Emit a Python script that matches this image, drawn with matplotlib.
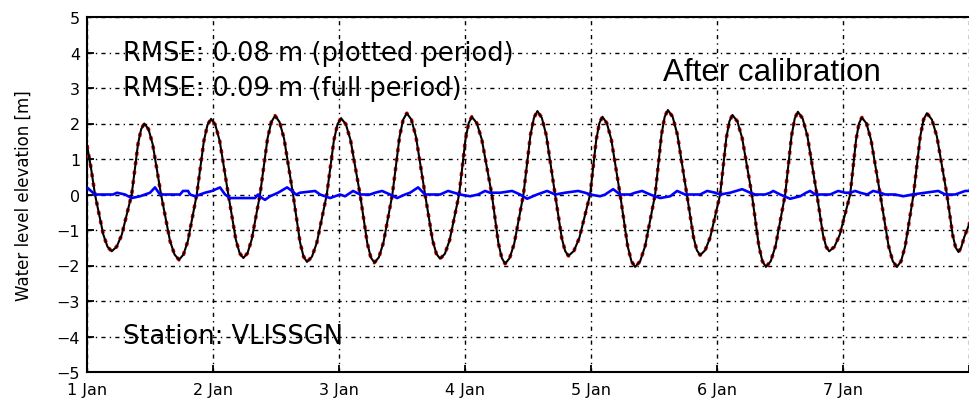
import matplotlib.pyplot as plt
import numpy as np

# hours since 1 Jan 00:00 and water level [m], model (black)
model_hours = [0.0, 0.76, 1.52, 3.11, 3.90, 4.70, 5.65, 6.61,
               8.51, 9.71, 10.31, 10.91, 11.71, 12.50,
               14.10, 15.81, 16.67, 17.52, 18.37, 19.21,
               20.90, 22.26, 22.94, 23.62, 24.44, 25.27,
               26.91, 28.34, 29.06, 29.77, 30.57, 31.36,
               32.95, 34.38, 35.10, 35.81, 36.67, 37.52,
               39.24, 40.57, 41.24, 41.90, 42.84, 43.78,
               45.66, 47.02, 47.70, 48.38, 49.29, 50.19,
               52.00, 53.36, 54.04, 54.72, 55.58, 56.44,
               58.15, 59.52, 60.21, 60.90, 61.77, 62.64,
               64.38, 65.81, 66.53, 67.24, 68.15, 69.05,
               70.86, 72.07, 72.68, 73.28, 74.23, 75.18,
               77.09, 78.35, 78.99, 79.62, 80.49, 81.36,
               83.11, 84.44, 85.11, 85.77, 86.61, 87.46,
               89.14, 90.41, 91.05, 91.68, 92.71, 93.74,
               95.81, 96.98, 97.57, 98.15, 98.99, 99.84,
               101.52, 102.95, 103.67, 104.38, 105.33, 106.29,
               108.19, 109.40, 110.01, 110.61, 111.52, 112.42,
               114.23, 115.50, 116.13, 116.76, 117.71, 118.67,
               120.57, 121.74, 122.33, 122.91, 123.84, 124.76,
               126.61, 127.94, 128.61, 129.28, 130.20, 131.12,
               132.95, 134.16, 134.77, 135.37, 136.28, 137.18,
               138.99, 140.16, 140.75, 141.33, 142.33, 143.33,
               145.33, 146.45, 147.00, 147.56, 148.43, 149.30,
               151.05, 152.64, 153.44, 154.23, 155.02, 155.81,
               157.39, 158.67, 159.30, 159.94, 160.89, 161.85,
               163.75, 164.86, 165.41, 165.96, 166.45, 167.05, 168.19]
model_level = [1.39, 0.75, 0.0, -1.13, -1.47, -1.60, -1.47, -1.14,
               0.0, 1.42, 1.84, 2.00, 1.84, 1.42,
               0.0, -1.31, -1.69, -1.84, -1.69, -1.31,
               0.0, 1.51, 1.96, 2.13, 1.96, 1.51,
               0.0, -1.27, -1.65, -1.79, -1.65, -1.27,
               0.0, 1.58, 2.04, 2.22, 2.04, 1.58,
               0.0, -1.35, -1.75, -1.90, -1.75, -1.35,
               0.0, 1.53, 1.98, 2.15, 1.98, 1.53,
               0.0, -1.36, -1.77, -1.92, -1.77, -1.36,
               0.0, 1.63, 2.11, 2.29, 2.11, 1.63,
               0.0, -1.29, -1.67, -1.81, -1.67, -1.29,
               0.0, 1.55, 2.01, 2.19, 2.01, 1.55,
               0.0, -1.38, -1.79, -1.95, -1.79, -1.38,
               0.0, 1.67, 2.16, 2.35, 2.16, 1.67,
               0.0, -1.23, -1.59, -1.73, -1.59, -1.23,
               0.0, 1.55, 2.01, 2.19, 2.01, 1.55,
               0.0, -1.45, -1.88, -2.04, -1.88, -1.45,
               0.0, 1.69, 2.19, 2.38, 2.19, 1.69,
               0.0, -1.21, -1.57, -1.71, -1.57, -1.21,
               0.0, 1.59, 2.06, 2.24, 2.06, 1.59,
               0.0, -1.45, -1.88, -2.04, -1.88, -1.45,
               0.0, 1.65, 2.14, 2.33, 2.14, 1.65,
               0.0, -1.14, -1.47, -1.60, -1.47, -1.14,
               0.0, 1.54, 2.00, 2.17, 2.00, 1.54,
               0.0, -1.45, -1.88, -2.04, -1.88, -1.45,
               0.0, 1.63, 2.11, 2.29, 2.11, 1.63,
               0.0, -1.15, -1.49, -1.62, -1.50, -1.20, -0.76]

# difference series (blue)
diff_hours = [0.0, 1.52, 4.95, 5.71, 7.24, 8.48, 10.10, 11.05, 12.0, 12.95, 13.90,
              17.71, 18.29, 19.24, 19.62, 20.57, 21.52, 22.48, 23.81, 25.33, 26.29,
              27.24, 32.0, 32.57, 33.33, 33.90, 34.86, 36.38, 38.10, 39.05, 39.81,
              40.57, 43.43, 44.38, 46.29, 48.19, 49.14, 50.67, 52.0, 53.90, 54.86,
              56.19, 57.71, 59.05, 60.57, 61.52, 63.05, 64.38, 67.24, 68.76, 71.05,
              72.95, 74.48, 75.81, 76.76, 78.67, 80.95, 82.48, 83.81, 85.71, 87.62,
              89.14, 91.05, 93.52, 94.86, 95.81, 97.71, 98.67, 100.19, 101.52, 103.43,
              104.38, 105.71, 107.24, 109.14, 111.05, 112.38, 113.90, 116.76, 118.10, 119.62,
              120.57, 122.48, 124.76, 126.29, 127.24, 129.14, 130.10, 130.67, 132.0, 133.90,
              135.81, 136.95, 137.71, 138.67, 141.52, 143.05, 144.38, 145.33, 146.29, 147.24,
              148.57, 149.71, 151.05, 152.0, 153.90, 155.43, 157.14, 159.62, 162.10, 163.43,
              165.33, 166.29, 167.24, 168.19]
diff_level = [0.2, 0.0, 0.0, 0.05, 0.0, -0.1, -0.05, 0.0, 0.05, 0.2, 0.0,
              0.0, 0.1, 0.1, 0.0, -0.05, 0.0, 0.05, 0.1, 0.2, 0.0,
              -0.1, -0.1, 0.0, -0.1, -0.15, -0.05, 0.05, 0.2, 0.1, 0.0,
              0.05, 0.1, 0.0, -0.1, 0.0, -0.05, 0.1, 0.0, 0.0, 0.05,
              0.1, 0.0, -0.1, 0.0, 0.05, 0.2, 0.0, 0.0, 0.1, 0.0,
              -0.05, 0.0, 0.1, 0.05, 0.05, 0.1, 0.0, -0.12, 0.0, 0.1,
              0.0, 0.05, 0.1, 0.05, 0.0, -0.05, 0.0, 0.15, 0.0, 0.0,
              0.05, 0.1, 0.0, -0.1, -0.05, 0.1, 0.0, 0.0, 0.1, 0.05,
              0.0, 0.05, 0.15, 0.05, 0.0, 0.0, 0.05, 0.1, 0.0, -0.12,
              -0.05, 0.05, 0.1, 0.0, 0.0, 0.1, 0.05, 0.05, 0.1, 0.05,
              0.0, 0.1, 0.05, 0.0, 0.0, -0.05, 0.0, 0.05, 0.1, 0.0,
              0.0, 0.05, 0.1, 0.1]

tick_hours = [0, 24, 48, 72, 96, 120, 144, 168]
tick_labels = ['1 Jan', '2 Jan', '3 Jan', '4 Jan', '5 Jan', '6 Jan', '7 Jan', '']
y_ticks = list(range(-5, 6))

plt.rcParams['font.family'] = ['DejaVu Sans']

fig = plt.figure(figsize=(9.7, 4.06), dpi=100)
ax = fig.add_axes([87 / 970, 1 - 373 / 406, 888 / 970, 355 / 406])

ax.plot(model_hours, model_level, color='red', lw=2.6, ls=':', zorder=3)
ax.plot(model_hours, model_level, color='black', lw=1.5, zorder=4)
ax.plot(diff_hours, diff_level, color='blue', lw=1.9, zorder=5)

ax.set_xlim(0, 169.1)
ax.set_ylim(-5, 5)
ax.set_xticks(tick_hours)
ax.set_xticklabels(tick_labels)
ax.set_yticks(y_ticks)
ax.tick_params(direction='in', length=5, width=1.3, labelsize=11.5, color='black')
ax.tick_params(axis='x', pad=7)
ax.tick_params(axis='y', pad=5)
ax.grid(True, color='black', lw=1.0, ls=(0, (3, 3, 1, 3)))
ax.set_axisbelow(True)
for side in ['left', 'bottom', 'top']:
    ax.spines[side].set_linewidth(1.5)
ax.spines['right'].set_visible(False)

ax.set_ylabel('Water level elevation [m]', fontsize=12)
ax.yaxis.set_label_coords(-0.061, 0.5)

ax.text(6.9, 4, 'RMSE: 0.08 m (plotted period)', fontsize=18.5, va='center', ha='left', zorder=6)
ax.text(6.9, 3, 'RMSE: 0.09 m (full period)', fontsize=18.5, va='center', ha='left', zorder=6)
ax.text(6.9, -4, 'Station: VLISSGN', fontsize=18.5, va='center', ha='left', zorder=6)
fig.text(663 / 970, 1 - 73 / 406, 'After calibration', fontsize=22.5,
         family='Liberation Sans', va='center', ha='left')

fig.savefig('out.png', dpi=100)
